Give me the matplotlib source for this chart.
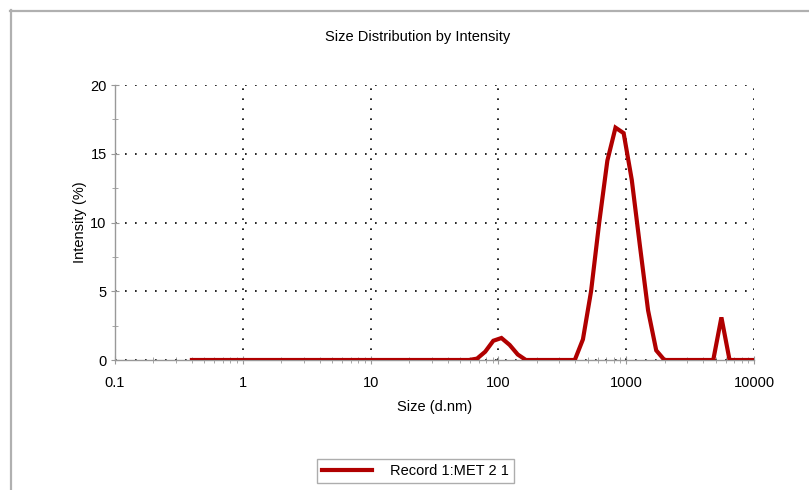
import matplotlib.pyplot as plt
from matplotlib.lines import Line2D
from matplotlib.ticker import FixedLocator, NullFormatter, LogLocator

plt.rcParams['font.family'] = ['Liberation Sans', 'DejaVu Sans']

# --- data: size bins (d.nm) and intensity (%) ---
size_nm = [0.4, 0.4632, 0.5365, 0.6213, 0.7195, 0.8332, 0.9649, 1.117, 1.294, 1.499,
           1.736, 2.010, 2.328, 2.696, 3.122, 3.615, 4.187, 4.849, 5.615, 6.503,
           7.531, 8.721, 10.10, 11.70, 13.54, 15.69, 18.17, 21.04, 24.36, 28.21,
           32.67, 37.84, 43.82, 50.75, 58.77, 68.06, 78.82, 91.28, 105.7, 122.4,
           141.8, 164.2, 190.1, 220.2, 255.0, 295.3, 342.0, 396.1, 458.7, 531.2,
           615.1, 712.4, 825.0, 955.4, 1106, 1281, 1484, 1718, 1990, 2305,
           2669, 3091, 3580, 4145, 4801, 5560, 6439, 7456, 8635, 10000]
intensity = [0, 0, 0, 0, 0, 0, 0, 0, 0, 0,
             0, 0, 0, 0, 0, 0, 0, 0, 0, 0,
             0, 0, 0, 0, 0, 0, 0, 0, 0, 0,
             0, 0, 0, 0, 0, 0.1, 0.6, 1.4, 1.6, 1.1,
             0.4, 0, 0, 0, 0, 0, 0, 0, 1.5, 5.0,
             10.0, 14.5, 16.9, 16.5, 13.1, 8.3, 3.6, 0.7, 0, 0,
             0, 0, 0, 0, 0, 3.1, 0, 0, 0, 0]

x_ticks = [0.1, 1, 10, 100, 1000, 10000]
x_labels = ['0.1', '1', '10', '100', '1000', '10000']
y_ticks = [0, 5, 10, 15, 20]

fig = plt.figure(figsize=(8.09, 4.90), dpi=100)
ax = fig.add_axes([0.1421, 0.2653, 0.932 - 0.1421, 0.8265 - 0.2653])

ax.plot(size_nm, intensity, color='#b00000', lw=3.0, solid_joinstyle='miter',
        label='Record 1:MET 2 1', zorder=3)

ax.set_xscale('log')
ax.set_xlim(0.1, 10000)
ax.set_ylim(0, 20)
ax.xaxis.set_major_locator(FixedLocator(x_ticks))
ax.set_xticks(x_ticks)
ax.set_xticklabels(x_labels)
ax.xaxis.set_minor_locator(LogLocator(base=10, subs=range(2, 10)))
ax.xaxis.set_minor_formatter(NullFormatter())
ax.set_yticks(y_ticks)
ax.yaxis.set_minor_locator(FixedLocator([2.5, 7.5, 12.5, 17.5]))

# dotted grid at the major ticks
ax.grid(True, which='major', color='black', linestyle=(0, (1, 5)), lw=1.2)
ax.set_axisbelow(True)

for side in ['top', 'right']:
    ax.spines[side].set_visible(False)
for side in ['left', 'bottom']:
    ax.spines[side].set_color('#999999')
    ax.spines[side].set_linewidth(1.0)

ax.tick_params(which='major', direction='inout', length=6, color='#999999',
               labelsize=10.5)
ax.tick_params(axis='x', which='major', pad=8.5)
ax.tick_params(axis='y', which='major', pad=3)
ax.tick_params(which='minor', direction='inout', length=4, color='#999999')

fig.text(0.5167, 1 - 37 / 490, 'Size Distribution by Intensity', fontsize=10.5,
         ha='center', va='center')
ax.set_xlabel('Size (d.nm)', fontsize=10.5, labelpad=7)
ax.set_ylabel('Intensity (%)', fontsize=10.5, labelpad=2)

fig.legend(loc='center', bbox_to_anchor=(0.5135, 0.039), fontsize=10.5,
           frameon=True, fancybox=False, edgecolor='#999999', handlelength=3.4,
           handletextpad=1.2, borderpad=0.35, borderaxespad=0)

# gray frame on the top and left edges of the image
fig.add_artist(Line2D([10 / 809, 1], [1 - 11 / 490, 1 - 11 / 490],
                      transform=fig.transFigure, color='#b0b0b0', lw=1.6))
fig.add_artist(Line2D([11 / 809, 11 / 809], [0, 1 - 10 / 490],
                      transform=fig.transFigure, color='#b0b0b0', lw=1.6))

fig.savefig('out.png', dpi=100)
